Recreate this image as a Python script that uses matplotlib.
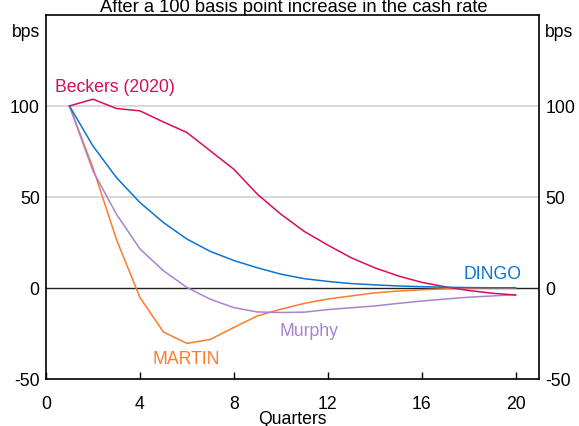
import matplotlib.pyplot as plt

plt.rcParams['font.family'] = ['Liberation Sans', 'DejaVu Sans']
plt.rcParams['axes.unicode_minus'] = False

quarters = list(range(1, 21))
beckers = [100, 103.7, 98.6, 97.3, 91.2, 85.4, 75.3, 65.2, 51.5, 40.5,
           31, 23.5, 16.5, 11, 6.5, 3, 0.5, -1.5, -3, -4]
dingo = [100, 78, 60.6, 46.9, 35.9, 26.8, 20, 15, 11, 7.5,
         5, 3.5, 2.3, 1.6, 1, 0.6, 0.3, 0.1, 0, 0]
martin = [100, 66, 26.6, -5.3, -24.3, -30.6, -28.4, -21.8, -15.5, -11.8,
          -8.6, -6.2, -4.5, -2.8, -1.8, -1.1, -0.6, -0.3, -0.2, -0.3]
murphy = [100, 64.3, 40.5, 21.4, 9.4, 0.2, -6.3, -10.9, -13.3, -13.6,
          -13.4, -12, -11, -10, -8.6, -7.3, -6.2, -5.2, -4.5, -3.8]

yticks = [-50, 0, 50, 100]
xticks = [0, 4, 8, 12, 16, 20]

c_beckers = '#DB0B5B'
c_dingo = '#0A74D0'
c_martin = '#FF7A2B'
c_murphy = '#A883CF'

fs = 12.7

fig = plt.figure(figsize=(5.79, 4.27), dpi=100)
ax = fig.add_axes([0.0794, 0.1108, 0.8516, 0.8517])

# gridlines + zero line
for v in [50, 100]:
    ax.axhline(v, color='#d4d4d4', lw=1.3, zorder=0)
ax.axhline(0, color='#222222', lw=1.0, zorder=1)

ax.plot(quarters, beckers, color=c_beckers, lw=1.1, zorder=3)
ax.plot(quarters, dingo, color=c_dingo, lw=1.1, zorder=3)
ax.plot(quarters, martin, color=c_martin, lw=1.1, zorder=2)
ax.plot(quarters, murphy, color=c_murphy, lw=1.1, zorder=2)

ax.set_xlim(0, 21)
ax.set_ylim(-50, 150)
ax.set_xticks(xticks)
ax.set_yticks(yticks)
ax.tick_params(axis='x', direction='in', length=5, width=1, labelsize=fs, pad=12)
ax.tick_params(axis='y', length=0, labelsize=fs, pad=4.5)
ax.tick_params(labelright=True, right=True)
for s in ax.spines.values():
    s.set_linewidth(1.2)

ax.text(-0.012, 0.955, 'bps', transform=ax.transAxes, ha='right', va='center', fontsize=fs)
ax.text(1.012, 0.955, 'bps', transform=ax.transAxes, ha='left', va='center', fontsize=fs)

ax.text(0.38, 108.2, 'Beckers (2020)', color=c_beckers, fontsize=fs, va='baseline')
ax.text(17.79, 5.2, 'DINGO', color=c_dingo, fontsize=fs, va='baseline')
ax.text(9.96, -25.8, 'Murphy', color=c_murphy, fontsize=fs, va='baseline')
ax.text(4.54, -41.5, 'MARTIN', color=c_martin, fontsize=fs, va='baseline')

ax.set_xlabel('Quarters', fontsize=fs, labelpad=-2)
fig.text(0.507, 0.9726, 'After a 100 basis point increase in the cash rate',
         ha='center', va='baseline', fontsize=13.2)

fig.savefig('out.png', dpi=100)
